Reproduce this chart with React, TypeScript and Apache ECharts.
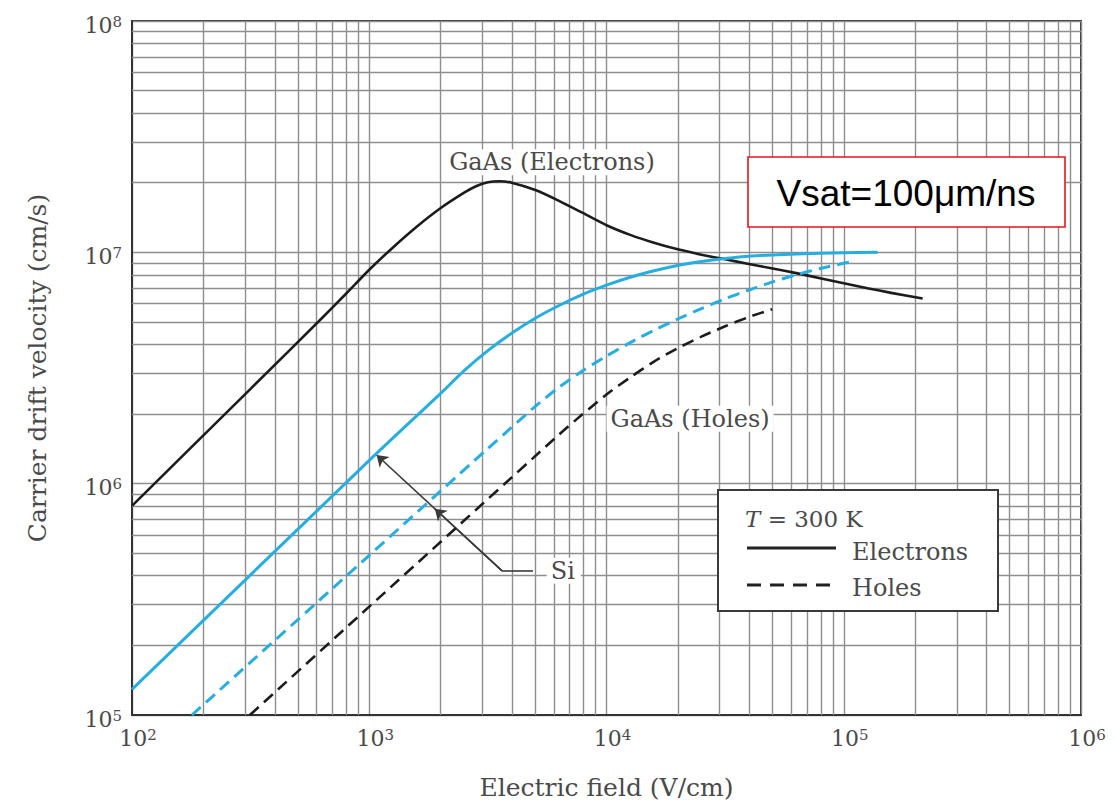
import React, { useEffect, useRef } from "react";
import * as echarts from "echarts";

// Decade exponents used for the tick labels (10^n)
const xTickExponents = [2, 3, 4, 5, 6];
const yTickExponents = [5, 6, 7, 8];

// Minor grid multipliers inside each decade
const minorMultipliers = [2, 3, 4, 5, 6, 7, 8, 9];
const xMinorDecades = [1e2, 1e3, 1e4, 1e5];
const yMinorDecades = [1e5, 1e6, 1e7];

// GaAs electrons (solid black), field in V/cm, velocity in cm/s
const gaasElecField = [100, 316, 631, 800, 1000, 1259, 1585, 1995, 2512, 2818, 3162, 3548, 3981, 5012, 6310, 7943, 10000, 12589, 15849, 19953, 25119, 31623, 39811, 50119, 63096, 79433, 100000, 125893, 158489, 215000];
const gaasElecVel = [8.02e5, 2.57e6, 5.19e6, 6.64e6, 8.41e6, 1.05e7, 1.29e7, 1.55e7, 1.81e7, 1.93e7, 2.01e7, 2.03e7, 2.0e7, 1.86e7, 1.67e7, 1.48e7, 1.31e7, 1.19e7, 1.1e7, 1.03e7, 9.77e6, 9.33e6, 8.91e6, 8.51e6, 8.13e6, 7.73e6, 7.35e6, 7.0e6, 6.68e6, 6.31e6];

// Si electrons (solid blue)
const siElecField = [100, 1000, 1995, 2512, 3162, 3981, 5012, 6310, 7943, 10000, 12589, 15849, 19953, 25119, 31623, 39811, 63096, 100000, 139000];
const siElecVel = [1.29e5, 1.26e6, 2.45e6, 3.08e6, 3.76e6, 4.47e6, 5.19e6, 5.89e6, 6.58e6, 7.21e6, 7.8e6, 8.32e6, 8.77e6, 9.12e6, 9.4e6, 9.62e6, 9.84e6, 9.95e6, 1.0e7];

// Si holes (dashed blue)
const siHoleField = [179, 1000, 3162, 3981, 5012, 6310, 7943, 10000, 12589, 15849, 19953, 25119, 31623, 39811, 50119, 63096, 79433, 100000, 108000];
const siHoleVel = [1.0e5, 4.9e5, 1.42e6, 1.75e6, 2.16e6, 2.61e6, 3.08e6, 3.56e6, 4.07e6, 4.6e6, 5.15e6, 5.71e6, 6.3e6, 6.87e6, 7.45e6, 8.0e6, 8.51e6, 8.97e6, 9.12e6];

// GaAs holes (dashed black)
const gaasHoleField = [314, 1000, 6310, 7943, 10000, 12589, 15849, 19953, 25119, 31623, 39811, 49900];
const gaasHoleVel = [1.0e5, 2.94e5, 1.63e6, 2.0e6, 2.43e6, 2.88e6, 3.37e6, 3.85e6, 4.32e6, 4.79e6, 5.25e6, 5.68e6];

// Annotation anchors in data coordinates
const siLeaderStart = [3630, 4.2e5];
const siLeaderEnd = [4900, 4.2e5];
const siArrowElectrons = [1074, 1.33e6];
const siArrowHoles = [1890, 7.79e5];
const siLabelAt = [5600, 4.2e5];
const gaasElecLabelAt = [5890, 2.45e7];
const gaasHoleLabelAt = [22500, 1.91e6];

const SERIF = "'DejaVu Serif', serif";
const GRID_COLOR = "#8e8e8e";
const FRAME_COLOR = "#333333";
const TEXT_COLOR = "#4a4a4a";
const BLUE = "#27aee0";
const BLACK = "#1c1c1c";

const pairs = (xs: number[], ys: number[]) => xs.map((x, i) => [x, ys[i]]);

const expLabel = (v: number, exps: number[]) => {
  const e = Math.round(Math.log10(v));
  return exps.includes(e) ? `{b|10}{s|${e}}` : "";
};

const tickRich = {
  b: { fontFamily: SERIF, fontSize: 22, color: TEXT_COLOR },
  s: { fontFamily: SERIF, fontSize: 15, color: TEXT_COLOR, verticalAlign: "top" },
};

const minorValues = (decades: number[]) =>
  decades.flatMap((d) => minorMultipliers.map((m) => m * d));

const curveSeries = (
  name: string,
  xs: number[],
  ys: number[],
  color: string,
  width: number,
  dashed: boolean
) => ({
  name,
  type: "line",
  data: pairs(xs, ys),
  symbol: "none",
  smooth: 0.25,
  z: 5,
  silent: true,
  lineStyle: { color, width, type: dashed ? [12, 7] : "solid", cap: "butt" },
});

const textLabel = (coord: number[], text: string) => ({
  coord,
  label: {
    show: true,
    position: "inside",
    formatter: text,
    fontFamily: SERIF,
    fontSize: 24,
    color: TEXT_COLOR,
    backgroundColor: "#ffffff",
    padding: [1, 4, 1, 4],
  },
});

export default function App() {
  const ref = useRef<HTMLDivElement>(null);

  useEffect(() => {
    if (!ref.current) return;
    const chart = echarts.init(ref.current, undefined, { renderer: "svg" });

    const option: any = {
      animation: false,
      backgroundColor: "#ffffff",
      textStyle: { fontFamily: SERIF },
      grid: {
        left: 132,
        right: 38,
        top: 21,
        bottom: 87,
        show: true,
        borderColor: FRAME_COLOR,
        borderWidth: 2,
        backgroundColor: "transparent",
      },
      xAxis: {
        type: "log",
        logBase: 10,
        min: 1e2,
        max: 1e6,
        name: "Electric field (V/cm)",
        nameLocation: "middle",
        nameGap: 60,
        nameTextStyle: { fontFamily: SERIF, fontSize: 25, color: TEXT_COLOR },
        axisLine: { show: true, lineStyle: { color: FRAME_COLOR, width: 2 } },
        axisTick: { show: false },
        axisLabel: {
          margin: 12,
          padding: [0, 0, 0, 12],
          formatter: (v: number) => expLabel(v, xTickExponents),
          rich: tickRich,
        },
        splitLine: { show: true, lineStyle: { color: GRID_COLOR, width: 1.4 } },
      },
      yAxis: {
        type: "log",
        logBase: 10,
        min: 1e5,
        max: 1e8,
        name: "Carrier drift velocity (cm/s)",
        nameLocation: "middle",
        nameGap: 82,
        nameTextStyle: { fontFamily: SERIF, fontSize: 25, color: TEXT_COLOR },
        axisLine: { show: true, lineStyle: { color: FRAME_COLOR, width: 2 } },
        axisTick: { show: false },
        axisLabel: {
          margin: 10,
          padding: [8, 0, 0, 0],
          formatter: (v: number) => expLabel(v, yTickExponents),
          rich: tickRich,
        },
        splitLine: { show: true, lineStyle: { color: GRID_COLOR, width: 1.4 } },
      },
      series: [
        {
          name: "grid-minor",
          type: "line",
          data: [],
          z: 1,
          silent: true,
          markLine: {
            silent: true,
            symbol: ["none", "none"],
            animation: false,
            label: { show: false },
            lineStyle: { color: GRID_COLOR, width: 1.4, type: "solid" },
            data: [
              ...minorValues(xMinorDecades).map((v) => ({ xAxis: v })),
              ...minorValues(yMinorDecades).map((v) => ({ yAxis: v })),
            ],
          },
        },
        {
          name: "annotations",
          type: "line",
          data: [],
          z: 3,
          silent: true,
          markLine: {
            silent: true,
            animation: false,
            symbolSize: 11,
            label: { show: false },
            lineStyle: { color: "#3a3a3a", width: 1.6, type: "solid" },
            data: [
              [
                { coord: siLeaderStart, symbol: "none" },
                { coord: siArrowElectrons, symbol: "arrow" },
              ],
              [
                { coord: siLeaderStart, symbol: "none" },
                { coord: siArrowHoles, symbol: "arrow" },
              ],
              [
                { coord: siLeaderStart, symbol: "none" },
                { coord: siLeaderEnd, symbol: "none" },
              ],
            ],
          },
          markPoint: {
            silent: true,
            animation: false,
            symbol: "circle",
            symbolSize: 0,
            itemStyle: { color: "transparent" },
            data: [
              textLabel(gaasElecLabelAt, "GaAs (Electrons)"),
              textLabel(gaasHoleLabelAt, "GaAs (Holes)"),
              {
                ...textLabel(siLabelAt, "Si"),
                label: { ...textLabel(siLabelAt, "Si").label, position: "right", distance: 0, padding: [1, 6, 1, 4] },
              },
            ],
          },
        },
        curveSeries("GaAs electrons", gaasElecField, gaasElecVel, BLACK, 2.6, false),
        curveSeries("Si electrons", siElecField, siElecVel, BLUE, 3, false),
        curveSeries("Si holes", siHoleField, siHoleVel, BLUE, 3, true),
        curveSeries("GaAs holes", gaasHoleField, gaasHoleVel, BLACK, 2.6, true),
      ],
      graphic: [
        // Legend box
        {
          type: "rect",
          z: 100,
          shape: { x: 718, y: 490, width: 280, height: 121 },
          style: { fill: "#ffffff", stroke: "#3a3a3a", lineWidth: 2 },
        },
        {
          type: "text",
          z: 101,
          x: 745,
          y: 519,
          style: {
            text: "{i|T} = 300 K",
            fontFamily: SERIF,
            fontSize: 23,
            fill: TEXT_COLOR,
            verticalAlign: "middle",
            rich: {
              i: { fontFamily: SERIF, fontSize: 23, fontStyle: "italic", fill: TEXT_COLOR },
            },
          },
        },
        {
          type: "line",
          z: 101,
          shape: { x1: 747, y1: 548, x2: 836, y2: 548 },
          style: { stroke: "#222222", lineWidth: 3 },
        },
        {
          type: "text",
          z: 101,
          x: 852,
          y: 552,
          style: { text: "Electrons", fontFamily: SERIF, fontSize: 24, fill: TEXT_COLOR, verticalAlign: "middle" },
        },
        {
          type: "line",
          z: 101,
          shape: { x1: 747, y1: 585, x2: 836, y2: 585 },
          style: { stroke: "#222222", lineWidth: 3, lineDash: [14, 9] },
        },
        {
          type: "text",
          z: 101,
          x: 852,
          y: 588,
          style: { text: "Holes", fontFamily: SERIF, fontSize: 24, fill: TEXT_COLOR, verticalAlign: "middle" },
        },
        // Saturation velocity note
        {
          type: "rect",
          z: 100,
          shape: { x: 748, y: 157, width: 317, height: 70 },
          style: { fill: "#ffffff", stroke: "#e8161e", lineWidth: 1.6 },
        },
        {
          type: "text",
          z: 101,
          x: 906,
          y: 193,
          style: {
            text: "Vsat=100μm/ns",
            fontFamily: "'Liberation Sans', Arial, sans-serif",
            fontSize: 37,
            fill: "#000000",
            align: "center",
            verticalAlign: "middle",
          },
        },
      ],
    };

    chart.setOption(option);
    return () => chart.dispose();
  }, []);

  return (
    <div
      ref={ref}
      style={{ position: "absolute", left: 0, top: 0, width: 1119, height: 805, background: "#fff" }}
    />
  );
}
